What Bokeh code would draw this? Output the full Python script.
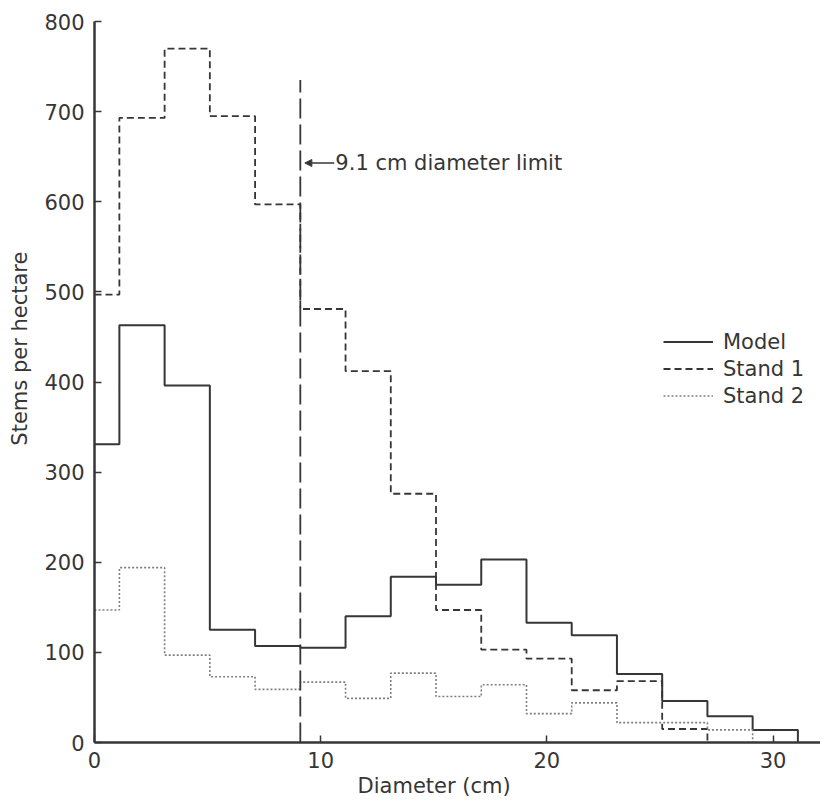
from bokeh.plotting import figure
from bokeh.models import Label, Arrow, NormalHead, Legend, LegendItem, Range1d, FixedTicker
from bokeh.embed import file_html
from bokeh.resources import INLINE

# ---- data ----
edges = [0, 1.1, 3.1, 5.1, 7.1, 9.1, 11.1, 13.1, 15.1, 17.1, 19.1, 21.1, 23.1, 25.1, 27.1, 29.1, 31.1]
model = [331, 463, 396, 125, 107, 105, 140, 184, 175, 203, 133, 119, 76, 46, 29, 14]
stand1 = [497, 693, 770, 695, 597, 481, 412, 276, 147, 103, 93, 58, 68, 15]
stand2 = [147, 194, 97, 73, 59, 67, 49, 77, 51, 64, 32, 44, 22, 22, 14]
series_names = ["Model", "Stand 1", "Stand 2"]
x_ticks = [0, 10, 20, 30]
y_ticks = [0, 100, 200, 300, 400, 500, 600, 700, 800]
limit_x = 9.1
limit_top = 735
limit_text = "9.1 cm diameter limit"
x_title = "Diameter (cm)"
y_title = "Stems per hectare"

INK = "#363636"
FONT = "DejaVu Sans"
NB = "\u00a0"


def steps(vals):
    xs, ys = [], []
    for i, v in enumerate(vals):
        xs += [edges[i], edges[i + 1]]
        ys += [v, v]
    xs.append(edges[len(vals)])
    ys.append(0)
    return xs, ys


p = figure(width=820, height=800, x_range=Range1d(0, 32.1), y_range=Range1d(0, 800),
           min_border_left=94, min_border_right=0, min_border_top=21, min_border_bottom=55,
           output_backend="svg", toolbar_location=None)
p.grid.visible = False
p.outline_line_color = None
p.background_fill_color = "white"
p.border_fill_color = "white"

for ax in (p.xaxis[0], p.yaxis[0]):
    ax.axis_line_width = 2.5
    ax.axis_line_color = INK
    ax.major_tick_line_color = INK
    ax.major_tick_line_width = 1.5
    ax.major_tick_in = 7
    ax.major_tick_out = 0
    ax.minor_tick_line_color = None
    ax.major_label_text_font = FONT
    ax.major_label_text_font_size = "21px"
    ax.major_label_text_color = INK
    ax.axis_label_text_font = FONT
    ax.axis_label_text_font_size = "21px"
    ax.axis_label_text_font_style = "normal"
    ax.axis_label_text_color = INK
p.xaxis.ticker = FixedTicker(ticks=x_ticks)
p.yaxis.ticker = FixedTicker(ticks=y_ticks)
p.xaxis.major_label_standoff = 9
p.yaxis.major_label_standoff = 10
# non-breaking spaces only shift the centred titles toward where the reference has them
p.xaxis.axis_label = x_title + NB * 7
p.yaxis.axis_label = NB * 10 + y_title
p.xaxis.axis_label_standoff = 3
p.yaxis.axis_label_standoff = 9

mx, my = steps(model)
s1x, s1y = steps(stand1)
s2x, s2y = steps(stand2)
r_model = p.line(mx, my, line_color=INK, line_width=2)
r_s1 = p.line(s1x, s1y, line_color=INK, line_width=1.8, line_dash="7 4")
r_s2 = p.line(s2x, s2y, line_color="#808080", line_width=1.6, line_dash="2 2")

# diameter limit line
p.line([limit_x, limit_x], [0, limit_top], line_color=INK, line_width=1.8, line_dash="20 6")

p.add_layout(Arrow(end=NormalHead(size=7, fill_color=INK, line_color=INK),
                   x_start=limit_x + 1.5, y_start=643, x_end=limit_x + 0.2, y_end=643,
                   line_color=INK, line_width=1.5))
p.add_layout(Label(x=limit_x + 1.55, y=643, text=limit_text, text_baseline="middle",
                   text_font=FONT, text_font_size="21px", text_color=INK))

legend = Legend(items=[LegendItem(label=series_names[0], renderers=[r_model]),
                       LegendItem(label=series_names[1], renderers=[r_s1]),
                       LegendItem(label=series_names[2], renderers=[r_s2])],
                location=(569, 333), glyph_width=50, glyph_height=27, label_height=27,
                spacing=0, padding=0, margin=0, label_standoff=10,
                border_line_color=None, background_fill_alpha=0,
                label_text_font=FONT, label_text_font_size="21px", label_text_color=INK)
p.add_layout(legend)

open("out.html", "w").write(file_html(p, INLINE))
